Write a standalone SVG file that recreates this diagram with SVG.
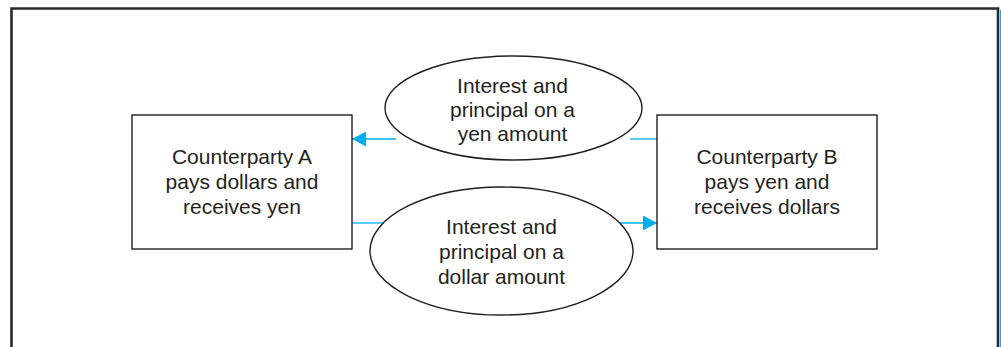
<svg xmlns="http://www.w3.org/2000/svg" width="1001" height="347" viewBox="0 0 1001 347">
<defs>
<style>
.box{fill:#fff;stroke:#231f20;stroke-width:1.4}
.ell{fill:#fff;stroke:#231f20;stroke-width:1.4}
.lbl{font-family:"Liberation Sans",Arial,sans-serif;font-size:21px;fill:#231f20;text-anchor:middle}
.conn{stroke:#00aeef;stroke-width:1.3;fill:none}
</style>
<marker id="arr" viewBox="0 0 14 15" refX="14" refY="7.5" markerWidth="14" markerHeight="15" markerUnits="userSpaceOnUse" orient="auto">
<path d="M0,0 L14,7.5 L0,15 Z" fill="#00aeef"/>
</marker>
</defs>
<rect width="1001" height="347" fill="#fff"/>
<path d="M11.5,347 V8.5 H998 V347" fill="none" stroke="#2b2b2b" stroke-width="2.6"/>
<line x1="1000.5" y1="10" x2="1000.5" y2="347" stroke="#00aeef" stroke-width="1"/>
<g id="connectors">
<line class="conn" x1="657" y1="139" x2="630" y2="139"/>
<line class="conn" x1="396" y1="139" x2="352" y2="139" marker-end="url(#arr)"/>
<line class="conn" x1="352" y1="223" x2="384" y2="223"/>
<line class="conn" x1="619" y1="223" x2="657" y2="223" marker-end="url(#arr)"/>
</g>
<g id="counterpartyA">
<rect class="box" x="132" y="115" width="220" height="134"/>
<text class="lbl" x="242" y="164">Counterparty A</text>
<text class="lbl" x="242" y="189">pays dollars and</text>
<text class="lbl" x="242" y="214">receives yen</text>
</g>
<g id="counterpartyB">
<rect class="box" x="657" y="115" width="220" height="134"/>
<text class="lbl" x="767" y="164">Counterparty B</text>
<text class="lbl" x="767" y="189">pays yen and</text>
<text class="lbl" x="767" y="214">receives dollars</text>
</g>
<g id="yenFlow">
<ellipse class="ell" cx="513.5" cy="108" rx="128.5" ry="52"/>
<text class="lbl" x="512.5" y="93">Interest and</text>
<text class="lbl" x="512.5" y="117">principal on a</text>
<text class="lbl" x="512.5" y="141">yen amount</text>
</g>
<g id="dollarFlow">
<ellipse class="ell" cx="501.5" cy="251" rx="131.5" ry="64"/>
<text class="lbl" x="501.5" y="234">Interest and</text>
<text class="lbl" x="501.5" y="259">principal on a</text>
<text class="lbl" x="501.5" y="284">dollar amount</text>
</g>
</svg>
